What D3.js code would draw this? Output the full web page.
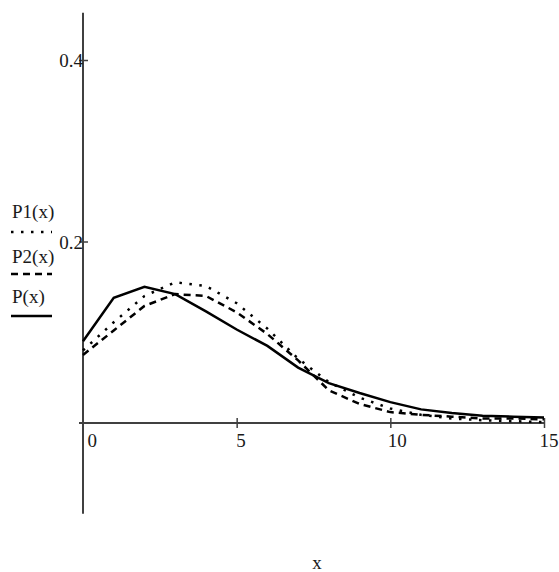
<!DOCTYPE html>
<html>
<head>
<meta charset="utf-8">
<script src="https://cdn.jsdelivr.net/npm/d3@7"></script>
<style>
  body { margin: 0; background: #fff; }
  svg text { font-family: "Liberation Serif", "DejaVu Serif", serif; font-size: 19px; fill: #1a1a1a; }
</style>
</head>
<body>
<svg width="559" height="572"></svg>
<script>
// x values (integer steps) and the three series
const xs = [0, 1, 2, 3, 4, 5, 6, 7, 8, 9, 10, 11, 12, 13, 14, 15];
const pVals  = [0.090, 0.138, 0.150, 0.142, 0.123, 0.103, 0.085, 0.061, 0.044, 0.033, 0.023, 0.015, 0.011, 0.008, 0.007, 0.006];
const p1Vals = [0.080, 0.111, 0.140, 0.155, 0.151, 0.132, 0.104, 0.071, 0.045, 0.028, 0.016, 0.009, 0.005, 0.003, 0.002, 0.001];
const p2Vals = [0.075, 0.102, 0.129, 0.142, 0.140, 0.122, 0.098, 0.069, 0.036, 0.021, 0.012, 0.009, 0.007, 0.005, 0.005, 0.004];

const xTicks = [5, 10, 15];
const xLabels = [0, 5, 10, 15];
const yTicks = [0.2, 0.4];
const legendNames = ['P1(x)', 'P2(x)', 'P(x)'];

const svg = d3.select('svg');

const xScale = d3.scaleLinear().domain([0, 15]).range([83, 544]);
const yScale = d3.scaleLinear().domain([0, 0.4]).range([423, 60]);

const axisColor = '#404040';

// x axis line (starts a bit left of the y axis)
svg.append('line')
  .attr('x1', xScale(-0.13)).attr('x2', xScale(15))
  .attr('y1', yScale(0)).attr('y2', yScale(0))
  .attr('stroke', axisColor).attr('stroke-width', 2);

// y axis line
svg.append('line')
  .attr('x1', xScale(0)).attr('x2', xScale(0))
  .attr('y1', yScale(0.452)).attr('y2', yScale(-0.1))
  .attr('stroke', axisColor).attr('stroke-width', 2);

// x ticks crossing the axis
const xTickG = svg.append('g')
  .attr('transform', `translate(0, ${yScale(0) - 5})`)
  .call(d3.axisBottom(xScale).tickValues(xTicks).tickSize(10).tickFormat(''));
xTickG.select('.domain').remove();
xTickG.selectAll('line').attr('stroke', axisColor).attr('stroke-width', 1.5);

// x labels, left aligned near the tick
const labelShift = { 0: 4, 5: -1, 10: -3, 15: -5 };
const xLabG = svg.append('g')
  .attr('transform', `translate(0, ${yScale(0)})`)
  .call(d3.axisBottom(xScale).tickValues(xLabels).tickSize(0).tickFormat(d3.format('d')));
xLabG.select('.domain').remove();
xLabG.selectAll('text')
  .attr('text-anchor', 'start')
  .attr('x', (d) => labelShift[d])
  .attr('y', 24).attr('dy', null)
  .attr('fill', null);
xLabG.attr('font-family', null).attr('font-size', null);

// y ticks crossing the axis
const yTickG = svg.append('g')
  .attr('transform', `translate(${xScale(0) - 4}, 0)`)
  .call(d3.axisRight(yScale).tickValues(yTicks).tickSize(9).tickFormat(''));
yTickG.select('.domain').remove();
yTickG.selectAll('line').attr('stroke', axisColor).attr('stroke-width', 1.5);

// y labels
svg.selectAll('.ylab')
  .data(yTicks)
  .enter()
  .append('text')
  .attr('class', 'ylab')
  .attr('x', xScale(0))
  .attr('y', (d) => yScale(d) + 7)
  .attr('text-anchor', 'end')
  .text((d) => d3.format('.1f')(d));

// curves
const series = [
  { vals: p1Vals, dash: '2.5,7.5' },
  { vals: p2Vals, dash: '7,5' },
  { vals: pVals, dash: null }
];

const line = d3.line()
  .x((d) => xScale(d[0]))
  .y((d) => yScale(d[1]));

series.forEach((s) => {
  svg.append('path')
    .datum(xs.map((x, i) => [x, s.vals[i]]))
    .attr('d', line)
    .attr('fill', 'none')
    .attr('stroke', '#000')
    .attr('stroke-width', 2.5)
    .attr('stroke-dasharray', s.dash);
});

// legend on the left
const legendTextY = [218, 263, 303];
const legendLineY = [232, 274, 316];
legendNames.forEach((name, i) => {
  svg.append('text')
    .attr('x', 12)
    .attr('y', legendTextY[i])
    .text(name);
  svg.append('line')
    .attr('x1', 11).attr('x2', 52)
    .attr('y1', legendLineY[i]).attr('y2', legendLineY[i])
    .attr('stroke', '#000')
    .attr('stroke-width', 2.5)
    .attr('stroke-dasharray', series[i].dash);
});

// x axis title
svg.append('text')
  .attr('x', 317)
  .attr('y', 569)
  .attr('text-anchor', 'middle')
  .text('x');
</script>
</body>
</html>
